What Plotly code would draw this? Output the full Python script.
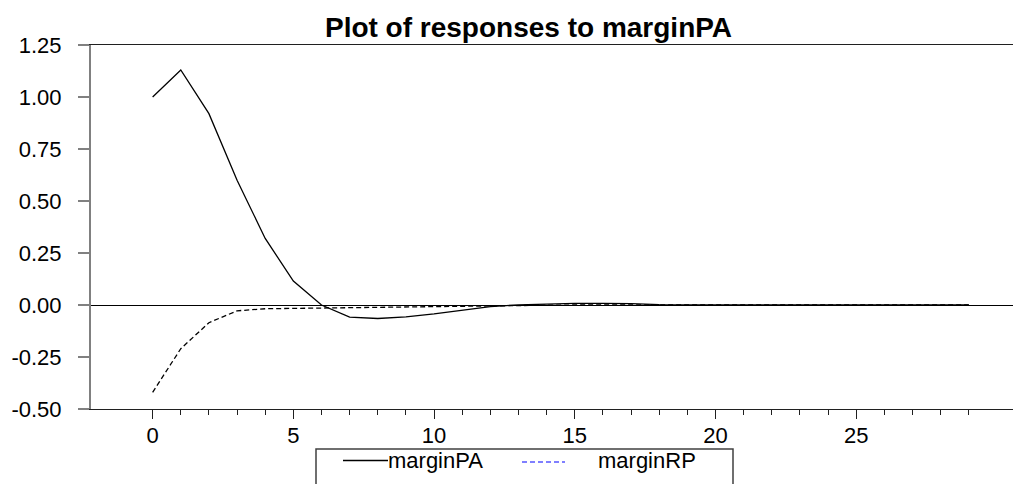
import plotly.graph_objects as go

# Impulse responses to a shock in marginPA, horizons 0..29
periods = list(range(30))
margin_pa = [1.00, 1.13, 0.92, 0.60, 0.32, 0.115, 0.0, -0.058, -0.065, -0.057,
             -0.043, -0.025, -0.008, 0.001, 0.006, 0.008, 0.008, 0.007, 0.002, 0.0,
             0.0, 0.0, 0.0, 0.0, 0.0, 0.0, 0.0, 0.0, 0.0, 0.0]
margin_rp = [-0.42, -0.21, -0.085, -0.028, -0.018, -0.016, -0.015, -0.014, -0.013, -0.011,
             -0.009, -0.007, -0.004, -0.002, -0.001, 0.0, 0.0, 0.0, 0.0, 0.0,
             0.0, 0.0, 0.0, 0.0, 0.0, 0.0, 0.0, 0.0, 0.0, 0.0]

y_ticks = [-0.5, -0.25, 0.0, 0.25, 0.5, 0.75, 1.0, 1.25]
y_tick_labels = ["-0.50", "-0.25", "0.00", "0.25", "0.50", "0.75", "1.00", "1.25"]
x_ticks = [0, 5, 10, 15, 20, 25]
x_tick_labels = ["0", "5", "10", "15", "20", "25"]

series_names = ["marginPA", "marginRP"]

FONT = "Arial, Liberation Sans, Helvetica, sans-serif"
W, H = 1017, 484
ML, MR, MT, MB = 91, 4, 45, 75
PW, PH = W - ML - MR, H - MT - MB


def px_x(p):
    return (p - ML) / PW


def px_y(p):
    return (H - MB - p) / PH


fig = go.Figure()
fig.add_trace(go.Scatter(x=periods, y=margin_pa, mode="lines", name=series_names[0],
                         line=dict(color="black", width=1.3), showlegend=False))
fig.add_trace(go.Scatter(x=periods, y=margin_rp, mode="lines", name=series_names[1],
                         line=dict(color="black", width=1.3, dash="5px,3px"), showlegend=False))

# Legend box below the axis
shapes = [
    dict(type="rect", xref="paper", yref="paper",
         x0=px_x(316), x1=px_x(733), y0=px_y(492), y1=px_y(449),
         line=dict(color="#404040", width=1.5), fillcolor="white", layer="above"),
    dict(type="line", xref="paper", yref="paper",
         x0=px_x(343), x1=px_x(388), y0=px_y(460.5), y1=px_y(460.5),
         line=dict(color="black", width=1.3)),
    dict(type="line", xref="paper", yref="paper",
         x0=px_x(522), x1=px_x(565), y0=px_y(462), y1=px_y(462),
         line=dict(color="#0000ff", width=1.2, dash="5px,3px")),
]
annotations = [
    dict(text=series_names[0], xref="paper", yref="paper", x=px_x(386), y=px_y(460),
         xanchor="left", yanchor="middle", showarrow=False,
         font=dict(family=FONT, size=22, color="black")),
    dict(text=series_names[1], xref="paper", yref="paper", x=px_x(596), y=px_y(460),
         xanchor="left", yanchor="middle", showarrow=False,
         font=dict(family=FONT, size=22, color="black")),
]

fig.update_layout(
    width=W, height=H,
    margin=dict(l=ML, r=MR, t=MT, b=MB, pad=0),
    paper_bgcolor="white", plot_bgcolor="white",
    title=dict(text="<b>Plot of responses to marginPA</b>", xref="container", yref="container",
               x=528.5 / W, xanchor="center", y=1 - 27 / H, yanchor="middle",
               font=dict(family=FONT, size=28, color="black")),
    font=dict(family=FONT, size=22, color="black"),
    shapes=shapes,
    annotations=annotations,
    showlegend=False,
)

fig.update_xaxes(
    range=[-2.19, 30.57], showgrid=False, zeroline=False,
    showline=True, linecolor="#202020", linewidth=1, mirror=True,
    tickmode="array", tickvals=x_ticks, ticktext=x_tick_labels,
    ticks="outside", ticklen=9, tickwidth=1, tickcolor="#202020",
    ticklabelstandoff=-2,
    tickfont=dict(family=FONT, size=22, color="black"),
    minor=dict(tickmode="array", tickvals=periods, ticks="outside", ticklen=5,
               tickwidth=1, tickcolor="#202020", showgrid=False),
)
fig.update_yaxes(
    range=[-0.5, 1.25], showgrid=False,
    zeroline=True, zerolinecolor="black", zerolinewidth=1,
    showline=True, linecolor="#808080", linewidth=2, mirror=False,
    tickmode="array", tickvals=y_ticks, ticktext=y_tick_labels,
    ticks="outside", ticklen=11, tickwidth=1.5, tickcolor="#808080",
    ticklabelstandoff=12,
    tickfont=dict(family=FONT, size=22, color="black"),
)

fig.write_html("out.html")
